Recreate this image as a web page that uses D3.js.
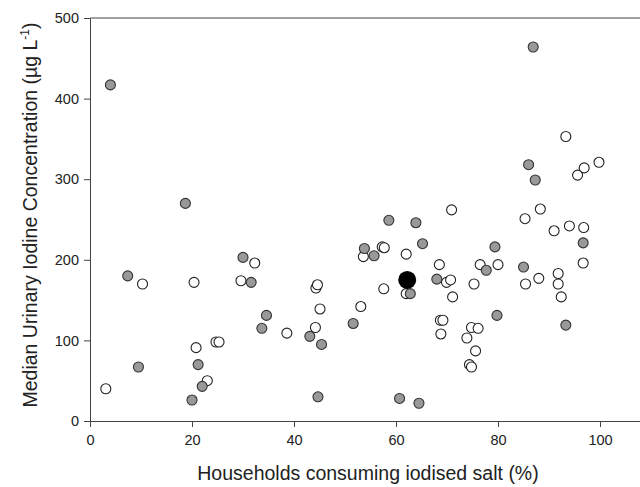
<!DOCTYPE html>
<html>
<head>
<meta charset="utf-8">
<script src="https://cdn.jsdelivr.net/npm/d3@7"></script>
<style>
  body { margin: 0; background: #fff; }
  svg { display: block; font-family: "Liberation Sans", Arial, sans-serif; }
</style>
</head>
<body>
<svg id="chart" width="640" height="487"></svg>
<script>
// Grey filled points: % households using iodised salt vs median UIC
const greyX = [4.0, 86.9, 18.7, 86.0, 87.3, 58.6, 63.9, 65.2, 79.4, 96.7, 53.8, 55.7, 30.0, 7.4, 31.6, 68.0, 77.7, 85.0,
  34.6, 33.7, 51.6, 43.1, 45.4, 79.8, 93.3, 9.5, 21.2, 22.0, 20.0, 44.7, 60.7, 64.5, 62.8];
const greyY = [417, 464, 270, 318, 299, 249, 246, 220, 216, 221, 214, 205, 203, 180, 172, 176, 187, 191,
  131, 115, 121, 105, 95, 131, 119, 67, 70, 43, 26, 30, 28, 22, 158];

// Open points
const openX = [3.1, 10.3, 20.4, 20.8, 23.0, 24.7, 25.3, 29.6, 32.3, 38.6, 44.2, 44.3, 44.6, 45.1, 53.1, 53.6, 57.3, 57.7,
  57.6, 62.0, 62.0, 68.5, 69.9, 70.7, 70.9, 71.1, 68.7, 69.2, 68.8, 73.9, 74.8, 76.1, 75.6, 74.4, 74.8, 75.3,
  76.5, 80.0, 85.3, 85.4, 88.0, 88.3, 91.0, 91.8, 91.8, 92.4, 93.3, 94.0, 95.6, 96.9, 96.8, 96.7, 99.8];
const openY = [40, 170, 172, 91, 50, 98, 98, 174, 196, 109, 116, 165, 169, 139, 142, 204, 216, 215,
  164, 207, 158, 194, 172, 175, 262, 154, 125, 125, 108, 103, 116, 115, 87, 70, 67, 170,
  194, 194, 251, 170, 177, 263, 236, 183, 170, 154, 353, 242, 305, 314, 240, 196, 321];

// Highlighted national value
const markX = [62.2];
const markY = [175];

const xTicks = [0, 20, 40, 60, 80, 100];
const yTicks = [0, 100, 200, 300, 400, 500];

const svg = d3.select("#chart");
const margin = { left: 90, top: 18 };
const plotH = 403;

const x = d3.scaleLinear().domain([0, 110]).range([margin.left, margin.left + 561]);
const y = d3.scaleLinear().domain([0, 500]).range([margin.top + plotH, margin.top]);

// frame top line
svg.append("line")
  .attr("x1", x(0)).attr("x2", x(110))
  .attr("y1", y(500)).attr("y2", y(500))
  .attr("stroke", "#444").attr("stroke-width", 1);

const xAxis = svg.append("g")
  .attr("transform", "translate(0," + y(0) + ")")
  .call(d3.axisBottom(x).tickValues(xTicks).tickSize(6).tickPadding(8).tickSizeOuter(0));

const yAxis = svg.append("g")
  .attr("transform", "translate(" + x(0) + ",0)")
  .call(d3.axisLeft(y).tickValues(yTicks).tickSize(6).tickPadding(5).tickSizeOuter(0));

[xAxis, yAxis].forEach(function (g) {
  g.select(".domain").attr("stroke", "#444");
  g.selectAll(".tick line").attr("stroke", "#444");
  g.selectAll(".tick text")
    .attr("fill", "#222")
    .style("font-size", "14.5px")
    .style("font-family", "'Liberation Sans', Arial, sans-serif");
});

const pts = svg.append("g");

pts.selectAll("circle.open")
  .data(d3.zip(openX, openY))
  .enter()
  .append("circle")
  .attr("class", "open")
  .attr("cx", function (d) { return x(d[0]); })
  .attr("cy", function (d) { return y(d[1]); })
  .attr("r", 5)
  .attr("fill", "#fff")
  .attr("stroke", "#222")
  .attr("stroke-width", 1.1);

pts.selectAll("circle.grey")
  .data(d3.zip(greyX, greyY))
  .enter()
  .append("circle")
  .attr("class", "grey")
  .attr("cx", function (d) { return x(d[0]); })
  .attr("cy", function (d) { return y(d[1]); })
  .attr("r", 5)
  .attr("fill", "#999")
  .attr("stroke", "#333")
  .attr("stroke-width", 1.1);

pts.selectAll("circle.mark")
  .data(d3.zip(markX, markY))
  .enter()
  .append("circle")
  .attr("class", "mark")
  .attr("cx", function (d) { return x(d[0]); })
  .attr("cy", function (d) { return y(d[1]); })
  .attr("r", 9)
  .attr("fill", "#000");

// axis titles
svg.append("text")
  .attr("x", 368)
  .attr("y", 480)
  .attr("text-anchor", "middle")
  .attr("fill", "#222")
  .style("font-size", "19.5px")
  .text("Households consuming iodised salt (%)");

const yTitle = svg.append("text")
  .attr("transform", "translate(37," + 215 + ") rotate(-90)")
  .attr("text-anchor", "middle")
  .attr("fill", "#222")
  .style("font-size", "19.5px");
yTitle.append("tspan").text("Median Urinary Iodine Concentration (µg L");
yTitle.append("tspan").attr("dy", "-8").style("font-size", "12px").text("-1");
yTitle.append("tspan").attr("dy", "8").text(")");
</script>
</body>
</html>
